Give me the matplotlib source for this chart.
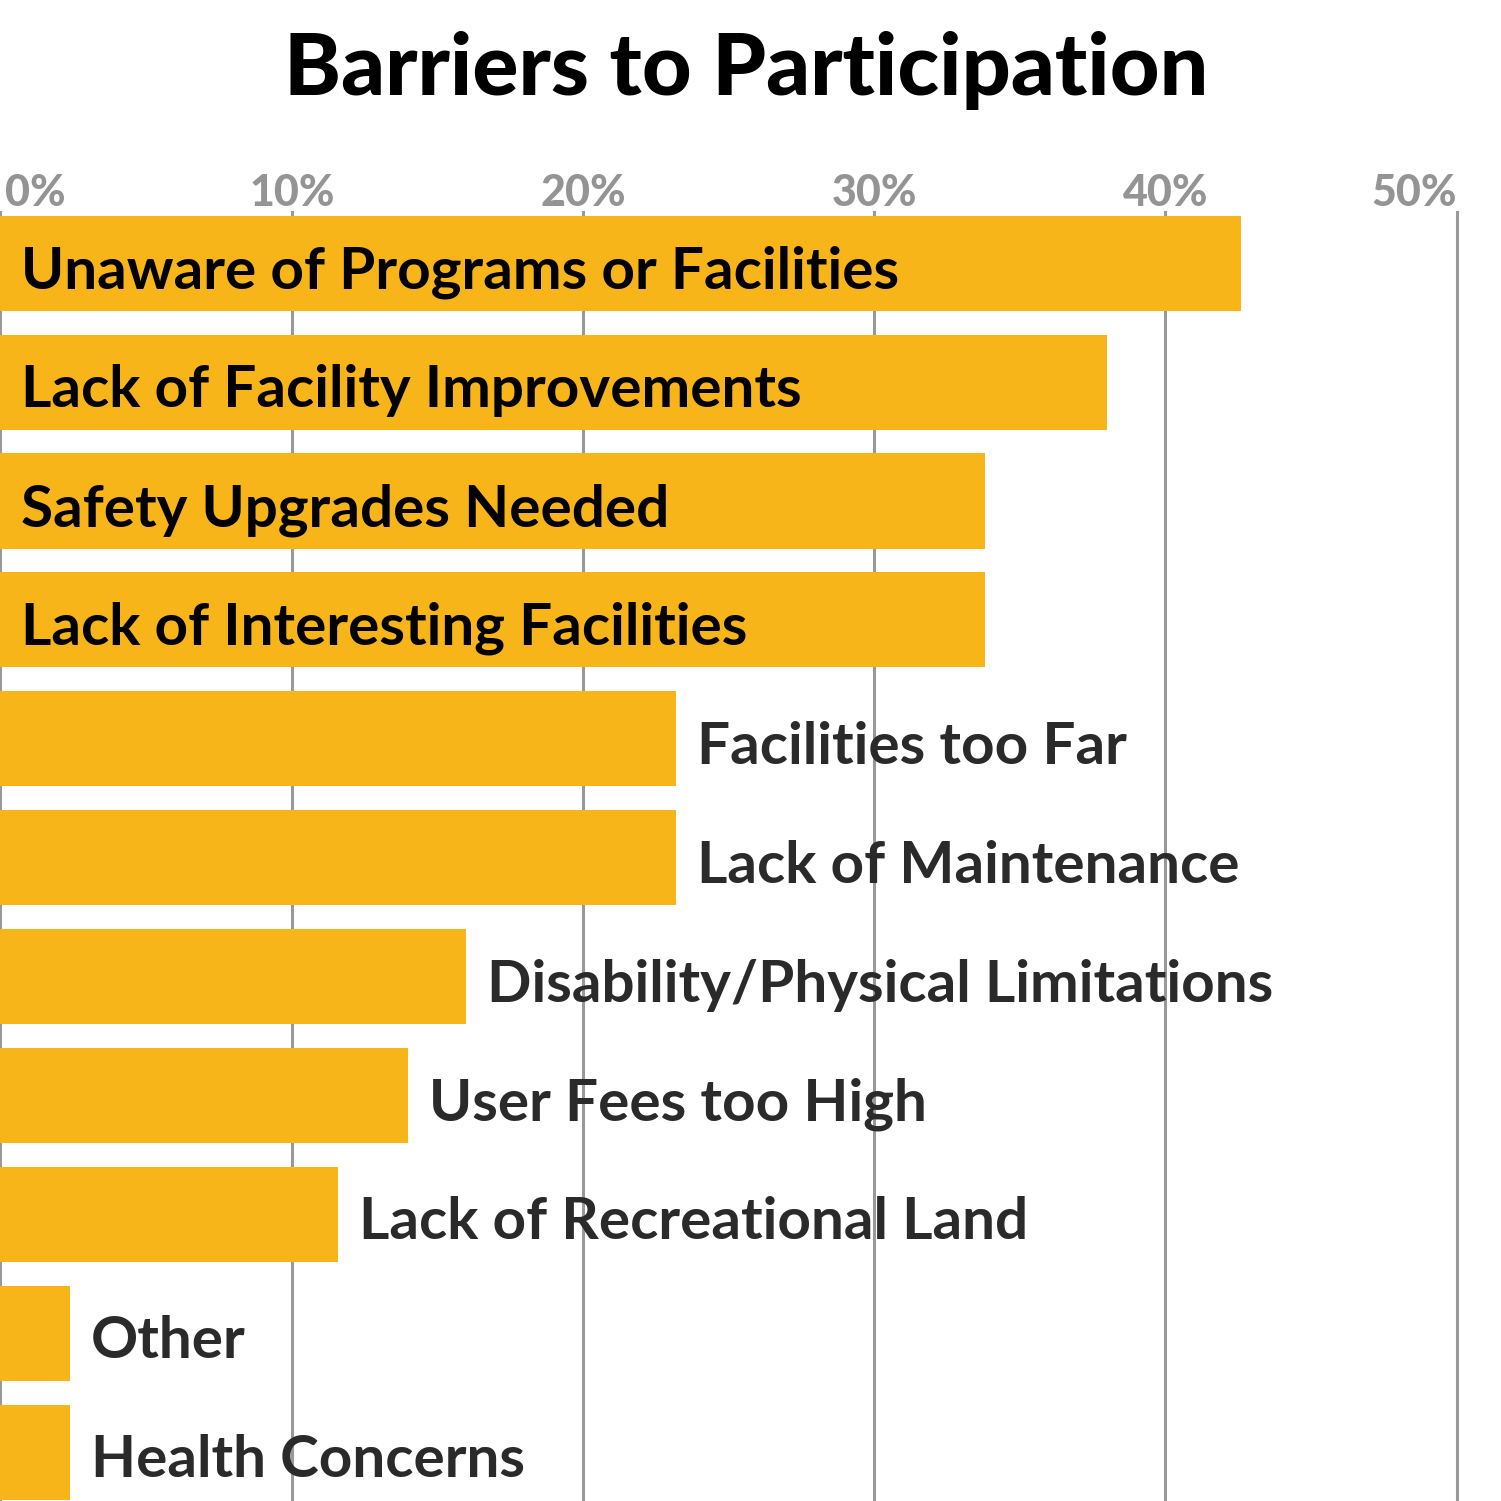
import numpy as np
import matplotlib.pyplot as plt

# barriers, in the order shown top to bottom
categories = [
    'Unaware of Programs or Facilities',
    'Lack of Facility Improvements',
    'Safety Upgrades Needed',
    'Lack of Interesting Facilities',
    'Facilities too Far',
    'Lack of Maintenance',
    'Disability/Physical Limitations',
    'User Fees too High',
    'Lack of Recreational Land',
    'Other',
    'Health Concerns',
]
percent = [42.6, 38.0, 33.8, 33.8, 23.2, 23.2, 16.0, 14.0, 11.6, 2.4, 2.4]
tick_values = [0, 10, 20, 30, 40, 50]
tick_labels = ['0%', '10%', '20%', '30%', '40%', '50%']

bar_color = '#F8B519'
grid_color = '#999999'
font = 'Lato'

fig = plt.figure(figsize=(15.01, 15.01), dpi=100)
ax = fig.add_axes([0, 0, 1, 0.8588])

y = np.arange(len(categories))
ax.barh(y, percent, height=0.8, color=bar_color, zorder=2)

for v in tick_values:
    ax.axvline(v, color=grid_color, lw=2.2, zorder=1, clip_on=False)

ax.set_xlim(-0.017, 51.52)
ax.set_ylim(10.41, -0.431)
ax.axis('off')

# tick labels across the top
for v, lab in zip(tick_values, tick_labels):
    ha = 'center'
    xx = v
    if v == 0:
        ha = 'left'
        xx = 0.15
    elif v == 50:
        ha = 'right'
    ax.text(xx, 1.0047, lab, transform=ax.get_xaxis_transform(), ha=ha,
            va='baseline', fontsize=31, fontweight='black', color='#949494',
            family=font)

# bar labels: inside for the long bars, beside for the rest
for i, (cat, val) in enumerate(zip(categories, percent)):
    if val > 30:
        ax.annotate(cat, (0.7, i), xytext=(0, -18), textcoords='offset points',
                    ha='left', va='baseline', fontsize=42, fontweight='bold',
                    color='black', family=font, zorder=3)
    else:
        ax.annotate(cat, (val, i), xytext=(15, -18), textcoords='offset points',
                    ha='left', va='baseline', fontsize=42, fontweight='bold',
                    color='#2a2a2a', family=font, zorder=3)

fig.text(0.497, 1 - 95 / 1501, 'Barriers to Participation', ha='center',
         va='baseline', fontsize=62, fontweight='black', color='black',
         family=font)

fig.savefig('out.png', dpi=100)
